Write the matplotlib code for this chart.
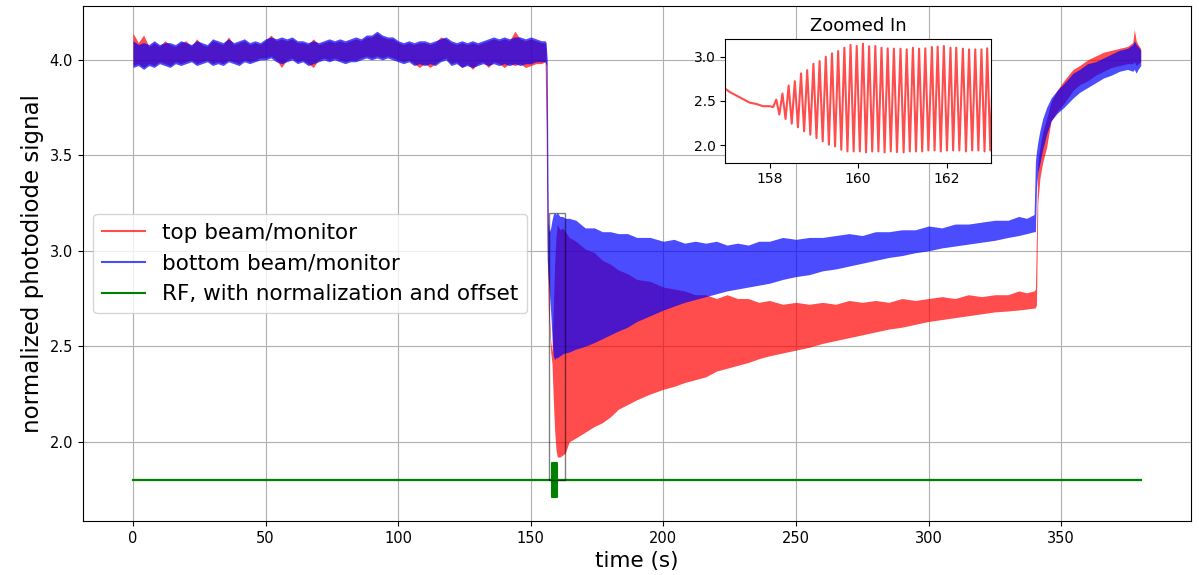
import matplotlib
matplotlib.use("Agg")
import matplotlib.pyplot as plt
from matplotlib.lines import Line2D
from matplotlib.patches import Rectangle

# ---- photodiode envelopes (min / max of the fast signal) on a common time base ----
t_env = [
    0, 2, 4, 6, 8, 10, 12, 14, 16, 18, 20, 22, 24, 26, 28, 30, 32, 34, 36, 38,
    40, 42, 44, 46, 48, 50, 52, 54, 56, 58, 60, 62, 64, 66, 68, 70, 72, 74, 76, 78,
    80, 82, 84, 86, 88, 90, 92, 94, 96, 98, 100, 102, 104, 106, 108, 110, 112, 114, 116, 118,
    120, 122, 124, 126, 128, 130, 132, 134, 136, 138, 140, 142, 144, 146, 148, 150, 152, 154, 155.4,
    155.8, 156.2, 156.6, 157.0, 157.5, 158.0, 158.5, 159.0, 159.5, 160.0, 161.0, 162.0, 163.0,
    164.5, 167, 170.5, 174, 177, 180, 183, 186.5, 190, 195, 200, 204, 208, 212, 216, 220, 224, 228,
    232, 236, 240, 245, 250, 255, 260, 265, 270, 275, 280, 285, 290, 295, 300, 305, 310, 315, 320,
    325, 330, 334, 337, 339.8,
    340.3, 340.7, 341.2, 342, 343, 344.5, 346.2, 348.5, 351, 354.5, 357, 360, 363, 366, 369, 372,
    375, 377, 377.6, 378.3, 379, 380,
]

top_hi = [
    4.14, 4.09, 4.13, 4.07, 4.09, 4.07, 4.10, 4.08, 4.07, 4.09, 4.10, 4.07, 4.11, 4.08, 4.07, 4.10,
    4.09, 4.08, 4.12, 4.08, 4.09, 4.10, 4.08, 4.09, 4.08, 4.10, 4.13, 4.10, 4.11, 4.10, 4.11, 4.09,
    4.09, 4.08, 4.11, 4.08, 4.09, 4.10, 4.09, 4.10, 4.09, 4.10, 4.11, 4.10, 4.12, 4.12, 4.14, 4.12,
    4.11, 4.11, 4.09, 4.08, 4.09, 4.08, 4.09, 4.09, 4.08, 4.09, 4.12, 4.11, 4.09, 4.08, 4.09, 4.08,
    4.09, 4.08, 4.09, 4.10, 4.11, 4.10, 4.11, 4.10, 4.15, 4.11, 4.10, 4.11, 4.10, 4.09, 4.09,
    4.05, 3.55, 3.00, 2.66, 2.53, 2.47, 2.70, 2.93, 3.07, 3.14, 3.11, 3.12, 3.10,
    3.07, 3.05, 3.01, 2.99, 2.95, 2.93, 2.90, 2.88, 2.85, 2.84, 2.81, 2.80, 2.79, 2.77, 2.77, 2.75,
    2.77, 2.75, 2.75, 2.73, 2.74, 2.72, 2.73, 2.72, 2.73, 2.72, 2.74, 2.73, 2.74, 2.73, 2.75,
    2.74, 2.75, 2.76, 2.75, 2.77, 2.76, 2.77, 2.77, 2.79, 2.78, 2.79,
    2.80, 3.10, 3.46, 3.54, 3.62, 3.69, 3.78, 3.84, 3.89, 3.95, 3.97, 4.00, 4.02, 4.04, 4.05, 4.06,
    4.07, 4.09, 4.16, 4.10, 4.08, 4.06,
]
top_lo = [
    3.97, 3.98, 3.96, 3.98, 3.97, 3.99, 3.98, 3.97, 3.99, 3.98, 3.99, 4.00, 3.98, 3.99, 4.00, 3.98,
    3.99, 3.98, 4.00, 3.99, 3.98, 4.00, 3.99, 4.00, 4.01, 4.01, 4.02, 4.00, 3.96, 4.00, 4.01, 3.99,
    4.00, 3.98, 3.96, 4.00, 4.01, 4.00, 4.01, 4.00, 3.99, 4.00, 4.00, 4.01, 4.02, 4.01, 4.02, 4.01,
    4.02, 4.01, 4.00, 3.99, 4.00, 3.98, 3.96, 3.98, 3.96, 3.98, 4.00, 4.01, 3.98, 3.99, 3.96, 3.98,
    3.95, 3.98, 3.99, 3.96, 3.99, 3.98, 3.96, 3.98, 3.97, 3.98, 3.96, 3.97, 3.98, 3.98, 3.99,
    3.60, 3.05, 2.70, 2.60, 2.47, 2.41, 2.22, 2.06, 1.96, 1.92, 1.92, 1.93, 1.94,
    2.00, 2.02, 2.05, 2.08, 2.10, 2.13, 2.17, 2.195, 2.22, 2.25, 2.275, 2.29, 2.31, 2.325, 2.34, 2.37,
    2.385, 2.40, 2.415, 2.435, 2.45, 2.465, 2.48, 2.495, 2.515, 2.53, 2.545, 2.56, 2.575, 2.59, 2.60,
    2.615, 2.63, 2.64, 2.65, 2.66, 2.67, 2.68, 2.685, 2.69, 2.695, 2.70,
    2.70, 2.72, 3.25, 3.38, 3.46, 3.54, 3.68, 3.73, 3.77, 3.84, 3.87, 3.89, 3.92, 3.94, 3.96, 3.97,
    3.98, 3.98, 3.99, 3.97, 3.98, 3.99,
]

bottom_hi = [
    4.10, 4.08, 4.09, 4.08, 4.10, 4.08, 4.09, 4.09, 4.08, 4.10, 4.09, 4.08, 4.10, 4.09, 4.08, 4.11,
    4.10, 4.09, 4.11, 4.09, 4.10, 4.11, 4.09, 4.10, 4.09, 4.11, 4.12, 4.11, 4.12, 4.11, 4.12, 4.10,
    4.10, 4.09, 4.10, 4.09, 4.10, 4.11, 4.10, 4.11, 4.10, 4.11, 4.12, 4.11, 4.13, 4.13, 4.15, 4.13,
    4.12, 4.12, 4.10, 4.09, 4.10, 4.09, 4.10, 4.10, 4.09, 4.10, 4.11, 4.12, 4.10, 4.09, 4.10, 4.09,
    4.10, 4.09, 4.10, 4.11, 4.12, 4.11, 4.12, 4.11, 4.12, 4.12, 4.11, 4.12, 4.11, 4.10, 4.10,
    4.09, 4.00, 3.15, 3.10, 3.12, 3.16, 3.19, 3.20, 3.19, 3.20, 3.18, 3.18, 3.17,
    3.17, 3.16, 3.12, 3.12, 3.10, 3.10, 3.09, 3.09, 3.07, 3.07, 3.05, 3.06, 3.04, 3.05, 3.04, 3.05,
    3.03, 3.04, 3.03, 3.05, 3.05, 3.07, 3.06, 3.07, 3.07, 3.08, 3.09, 3.08, 3.10, 3.10, 3.11,
    3.11, 3.13, 3.12, 3.14, 3.14, 3.15, 3.16, 3.16, 3.18, 3.17, 3.19,
    3.47, 3.52, 3.57, 3.63, 3.69, 3.75, 3.80, 3.84, 3.875, 3.93, 3.95, 3.98, 3.99, 4.01, 4.03, 4.05,
    4.06, 4.08, 4.10, 4.08, 4.07, 4.05,
]
bottom_lo = [
    3.96, 3.97, 3.95, 3.97, 3.96, 3.98, 3.97, 3.96, 3.98, 3.97, 3.98, 3.99, 3.97, 3.98, 3.99, 3.97,
    3.98, 3.97, 3.99, 3.98, 3.97, 3.99, 3.98, 3.99, 4.00, 4.00, 4.01, 3.99, 3.98, 3.99, 4.00, 3.98,
    3.99, 3.97, 3.98, 3.99, 4.00, 3.99, 4.00, 3.99, 3.98, 3.99, 3.99, 4.00, 4.01, 4.00, 4.01, 4.00,
    4.01, 4.00, 3.99, 3.98, 3.99, 3.97, 3.98, 3.97, 3.98, 3.97, 3.99, 4.00, 3.97, 3.98, 3.96, 3.97,
    3.96, 3.97, 3.98, 3.97, 3.98, 3.97, 3.98, 3.97, 3.98, 3.97, 3.98, 3.98, 3.99, 3.99, 3.99,
    3.97, 2.95, 2.85, 2.78, 2.68, 2.55, 2.45, 2.43, 2.44, 2.44, 2.45, 2.46, 2.465,
    2.47, 2.485, 2.50, 2.52, 2.54, 2.56, 2.58, 2.60, 2.63, 2.66, 2.69, 2.71, 2.73, 2.745, 2.76, 2.775,
    2.79, 2.80, 2.81, 2.82, 2.83, 2.85, 2.865, 2.875, 2.895, 2.905, 2.92, 2.935, 2.95, 2.965, 2.975,
    2.99, 3.00, 3.015, 3.025, 3.035, 3.045, 3.055, 3.07, 3.08, 3.09, 3.10,
    3.10, 3.33, 3.41, 3.46, 3.53, 3.61, 3.68, 3.72, 3.75, 3.80, 3.83, 3.855, 3.88, 3.905, 3.92, 3.94,
    3.95, 3.94, 3.95, 3.93, 3.95, 3.97,
]

# ---- RF drive (normalised and offset): flat baseline with a short burst ----
rf_t = [0, 157.9, 157.9, 160.05, 160.05, 380]
rf_hi = [1.80, 1.80, 1.89, 1.89, 1.80, 1.80]
rf_lo = [1.80, 1.80, 1.71, 1.71, 1.80, 1.80]

# ---- top beam/monitor at full resolution around the RF burst (turning points) ----
zoom_t = [
    157.0, 157.1, 157.25, 157.4, 157.55, 157.7, 157.85, 158.0, 158.08,
    158.15, 158.22, 158.29, 158.36, 158.43, 158.50, 158.57, 158.64, 158.71, 158.78,
    158.85, 158.92, 158.99, 159.06, 159.13, 159.20, 159.27, 159.34, 159.41, 159.48,
    159.55, 159.62, 159.69, 159.76, 159.83, 159.90, 159.97, 160.04, 160.11, 160.18,
    160.25, 160.32, 160.39, 160.46, 160.53, 160.60, 160.67, 160.74, 160.81, 160.88,
    160.96, 161.03, 161.10, 161.17, 161.24, 161.31, 161.38, 161.45, 161.52, 161.59,
    161.67, 161.73, 161.80, 161.87, 161.94, 162.01, 162.09, 162.15, 162.22, 162.29,
    162.37, 162.44, 162.51, 162.58, 162.65, 162.72, 162.79, 162.86, 162.92, 162.99, 163.06,
]
zoom_v = [
    2.636, 2.60, 2.56, 2.52, 2.48, 2.465, 2.44, 2.44, 2.43,
    2.515, 2.345, 2.583, 2.295, 2.674, 2.242, 2.723, 2.201, 2.811, 2.155,
    2.848, 2.117, 2.920, 2.080, 2.951, 2.042, 3.000, 2.004, 3.038, 1.985,
    3.064, 1.947, 3.102, 1.928, 3.133, 1.928, 3.121, 1.928, 3.148, 1.917,
    3.117, 1.928, 3.121, 1.928, 3.102, 1.917, 3.095, 1.928, 3.091, 1.920,
    3.091, 1.917, 3.083, 1.928, 3.102, 1.928, 3.091, 1.928, 3.095, 1.939,
    3.110, 1.939, 3.114, 1.928, 3.121, 1.939, 3.102, 1.939, 3.102, 1.939,
    3.091, 1.928, 3.083, 1.939, 3.083, 1.939, 3.083, 1.928, 3.095, 1.939, 3.090,
]

ZOOM_X = (157, 163)
ZOOM_Y = (1.8, 3.2)

TOP_C = "red"
BOT_C = "blue"
RF_C = "green"
ALPHA = 0.7

fig = plt.figure(figsize=(11.99, 5.75), dpi=100)
ax = fig.add_axes([0.0689, 0.0939, 0.9245, 0.8957])

ax.fill_between(t_env, top_lo, top_hi, color=TOP_C, alpha=ALPHA, lw=0)
ax.fill_between(t_env, bottom_lo, bottom_hi, color=BOT_C, alpha=ALPHA, lw=0)
ax.plot([rf_t[0], rf_t[-1]], [rf_lo[0], rf_lo[-1]], color=RF_C, lw=1.5)
ax.fill_between(rf_t, rf_lo, rf_hi, color=RF_C, lw=1.5, edgecolor=RF_C)

ax.add_patch(Rectangle((ZOOM_X[0], ZOOM_Y[0]), ZOOM_X[1] - ZOOM_X[0], ZOOM_Y[1] - ZOOM_Y[0],
                       fill=False, edgecolor="black", alpha=0.5, lw=1.0, zorder=4))

ax.set_xlim(-19, 399)
ax.set_ylim(1.585, 4.282)
ax.set_xticks([0, 50, 100, 150, 200, 250, 300, 350])
ax.set_yticks([2.0, 2.5, 3.0, 3.5, 4.0])
ax.grid(True, color="#b0b0b0", lw=0.8)
ax.set_axisbelow(True)
ax.tick_params(labelsize=10.5)
ax.set_xlabel("time (s)", fontsize=15.5)
ax.set_ylabel("normalized photodiode signal", fontsize=16.5)

handles = [
    Line2D([], [], color=TOP_C, alpha=ALPHA, lw=1.5),
    Line2D([], [], color=BOT_C, alpha=ALPHA, lw=1.5),
    Line2D([], [], color=RF_C, lw=1.5),
]
labels = ["top beam/monitor", "bottom beam/monitor", "RF, with normalization and offset"]
ax.legend(handles, labels, loc="center left", fontsize=15.5)

axins = fig.add_axes([0.605, 0.717, 0.2213, 0.2151])
axins.plot(zoom_t, zoom_v, color=TOP_C, alpha=ALPHA, lw=1.5)
axins.set_xlim(*ZOOM_X)
axins.set_ylim(*ZOOM_Y)
axins.set_xticks([158, 160, 162])
axins.set_yticks([2.0, 2.5, 3.0])
axins.tick_params(labelsize=10)
axins.set_title("Zoomed In", fontsize=13)

fig.savefig("out.png", dpi=100)
